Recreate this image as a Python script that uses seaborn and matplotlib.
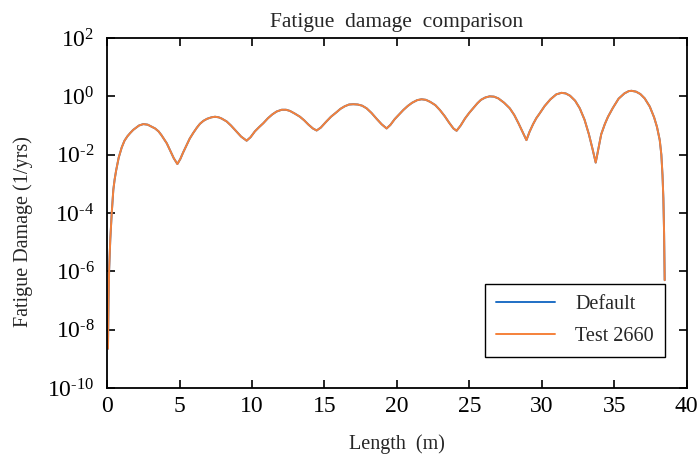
import numpy as np
import pandas as pd
import matplotlib
matplotlib.use("Agg")
import matplotlib.pyplot as plt
import seaborn as sns
from matplotlib.ticker import FixedLocator, FuncFormatter, NullLocator, MultipleLocator

# Position along the member (m)
length_m = [0.06, 0.10, 0.14, 0.22, 0.32, 0.43, 0.52, 0.62, 0.80, 1.01,
            1.20, 1.40, 1.59, 1.80, 2.20, 2.50, 2.80, 3.31, 3.55, 3.75,
            3.95, 4.12, 4.35, 4.60, 4.85, 5.05, 5.25, 5.49, 5.70, 5.95,
            6.20, 6.41, 6.65, 6.90, 7.20, 7.45, 7.70, 7.90, 8.25, 8.55,
            8.90, 9.25, 9.63, 9.90, 10.20, 10.50, 10.78, 11.10, 11.40, 11.70,
            12.05, 12.35, 12.62, 12.95, 13.31, 13.60, 13.90, 14.20, 14.46, 14.75,
            15.10, 15.45, 15.84, 16.10, 16.40, 16.70, 16.99, 17.30, 17.60, 17.91,
            18.25, 18.60, 18.95, 19.29, 19.55, 19.85, 20.15, 20.44, 20.75, 21.05,
            21.40, 21.70, 22.00, 22.30, 22.65, 22.97, 23.30, 23.60, 23.90, 24.12,
            24.40, 24.70, 25.00, 25.26, 25.55, 25.80, 26.10, 26.40, 26.70, 27.00,
            27.40, 27.79, 28.10, 28.40, 28.70, 28.94, 29.15, 29.40, 29.62, 29.86,
            30.20, 30.60, 31.00, 31.36, 31.65, 31.95, 32.30, 32.62, 32.95, 33.25,
            33.50, 33.72, 33.90, 34.10, 34.35, 34.57, 34.90, 35.30, 35.70, 36.00,
            36.19, 36.50, 36.80, 37.10, 37.45, 37.75, 37.95, 38.14, 38.25, 38.33,
            38.39, 38.44, 38.48]

# Fatigue damage (1/yrs), default settings
damage_default = [2.24e-9, 1.00e-7, 1.12e-6, 1.26e-5, 1.00e-4, 6.31e-4, 1.41e-3, 2.82e-3, 7.94e-3, 1.78e-2,
                  3.02e-2, 4.27e-2, 5.50e-2, 7.08e-2, 1.00e-1, 1.12e-1, 1.07e-1, 7.94e-2, 6.31e-2, 4.68e-2,
                  3.31e-2, 2.45e-2, 1.41e-2, 7.59e-3, 4.79e-3, 7.08e-3, 1.20e-2, 2.14e-2, 3.55e-2, 5.62e-2,
                  8.51e-2, 1.15e-1, 1.45e-1, 1.70e-1, 1.91e-1, 2.00e-1, 1.91e-1, 1.74e-1, 1.38e-1, 1.00e-1,
                  6.46e-2, 4.17e-2, 3.02e-2, 3.98e-2, 6.31e-2, 8.91e-2, 1.20e-1, 1.78e-1, 2.40e-1, 3.02e-1,
                  3.47e-1, 3.47e-1, 3.16e-1, 2.57e-1, 2.00e-1, 1.51e-1, 1.07e-1, 7.94e-2, 6.76e-2, 8.51e-2,
                  1.32e-1, 2.00e-1, 2.88e-1, 3.72e-1, 4.57e-1, 5.25e-1, 5.37e-1, 5.25e-1, 4.79e-1, 3.89e-1,
                  2.69e-1, 1.70e-1, 1.10e-1, 7.94e-2, 1.05e-1, 1.66e-1, 2.40e-1, 3.39e-1, 4.68e-1, 6.03e-1,
                  7.41e-1, 7.94e-1, 7.59e-1, 6.46e-1, 5.01e-1, 3.39e-1, 2.09e-1, 1.26e-1, 7.94e-2, 6.61e-2,
                  1.00e-1, 1.74e-1, 2.75e-1, 3.89e-1, 5.75e-1, 7.59e-1, 9.12e-1, 1.00, 9.77e-1, 8.51e-1,
                  6.03e-1, 3.89e-1, 2.29e-1, 1.17e-1, 5.62e-2, 3.16e-2, 6.03e-2, 1.12e-1, 1.78e-1, 2.63e-1,
                  4.68e-1, 7.94e-1, 1.17, 1.32, 1.26, 1.05, 7.08e-1, 3.89e-1, 1.58e-1, 5.01e-2,
                  1.58e-2, 5.37e-3, 1.58e-2, 5.01e-2, 1.12e-1, 2.00e-1, 3.98e-1, 8.32e-1, 1.26, 1.51,
                  1.55, 1.45, 1.20, 8.51e-1, 4.47e-1, 1.91e-1, 8.91e-2, 3.16e-2, 1.00e-2, 2.00e-3,
                  3.16e-4, 2.00e-5, 5.01e-7]

# Fatigue damage (1/yrs), test case 2660 (coincides with the default run)
damage_test2660 = list(damage_default)

series_names = ["Default", "Test 2660"]
series_colors = ["#1F6FC5", "#F5813A"]

# Decade ticks on the damage axis
y_tick_exponents = [-10, -8, -6, -4, -2, 0, 2]

df = pd.concat([
    pd.DataFrame({"Length": length_m, "Damage": damage_default, "Case": series_names[0]}),
    pd.DataFrame({"Length": length_m, "Damage": damage_test2660, "Case": series_names[1]}),
], ignore_index=True)

sns.set_theme(style="ticks")
plt.rcParams["font.family"] = ["Liberation Serif", "DejaVu Serif"]
plt.rcParams["mathtext.fontset"] = "custom"
plt.rcParams["mathtext.rm"] = "Liberation Serif"
plt.rcParams["mathtext.it"] = "Liberation Serif:italic"
plt.rcParams["mathtext.bf"] = "Liberation Serif:bold"

fig = plt.figure(figsize=(7.0, 4.55), dpi=100)
ax = fig.add_axes([0.153, 0.147, 0.828, 0.7695])

sns.lineplot(data=df, x="Length", y="Damage", hue="Case", hue_order=series_names,
             palette=series_colors, linewidth=1.4, sort=False, estimator=None,
             ax=ax, legend=False)


def decade_label(value, pos):
    exp = int(round(np.log10(value)))
    return "$10^{%s}$" % str(exp).replace("-", "\u2010")


ax.set_yscale("log")
ax.set_xlim(0, 40)
ax.set_ylim(1e-10, 1e2)
ax.xaxis.set_major_locator(MultipleLocator(5))
ax.yaxis.set_major_locator(FixedLocator([10.0 ** e for e in y_tick_exponents]))
ax.yaxis.set_major_formatter(FuncFormatter(decade_label))
ax.yaxis.set_minor_locator(NullLocator())
ax.xaxis.set_minor_locator(NullLocator())

ax.tick_params(axis="both", which="major", direction="in", length=6, width=1.2,
               top=True, right=True, labelsize=17, colors="black")
ax.tick_params(axis="x", pad=6)
ax.tick_params(axis="y", pad=9)
for sp in ax.spines.values():
    sp.set_visible(True)
    sp.set_linewidth(1.3)
    sp.set_color("black")

ax.set_title("Fatigue  damage  comparison", fontsize=15.5, pad=8)
ax.set_xlabel("Length  (m)", fontsize=14.5, labelpad=12)
ax.set_ylabel("Fatigue Damage (1/yrs)", fontsize=14.5)
ax.yaxis.set_label_coords(-0.128, 0.446)

handles = [plt.Line2D([], [], color=c, linewidth=1.4) for c in series_colors]
leg = ax.legend(handles, series_names, loc="lower right", bbox_to_anchor=(0.962, 0.0886),
                fontsize=14.5, frameon=True, fancybox=False, handlelength=2.9,
                handletextpad=1.0, borderpad=0.55, labelspacing=0.65, borderaxespad=0)
leg.get_frame().set_edgecolor("black")
leg.get_frame().set_linewidth(1.0)
leg.get_frame().set_alpha(1.0)

fig.savefig("out.png", dpi=100)
